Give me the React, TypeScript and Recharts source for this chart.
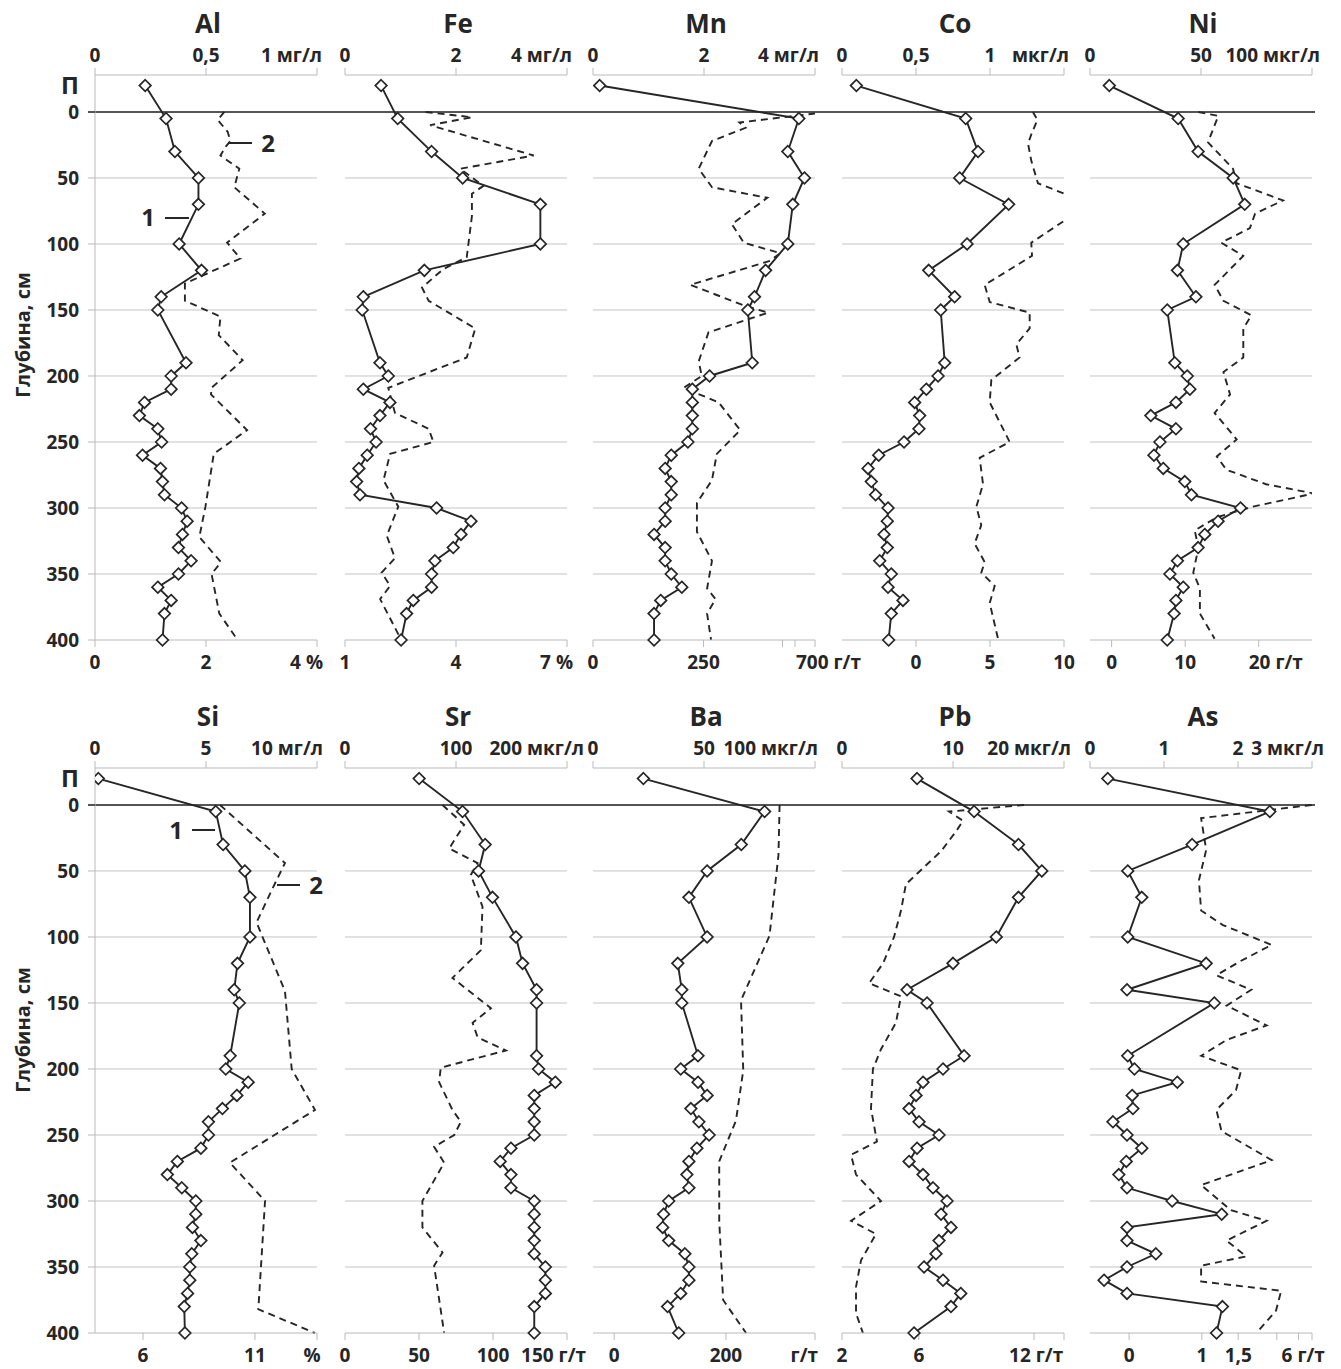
import React from 'react';
import { LineChart, Line, XAxis, YAxis, ReferenceLine } from 'recharts';

const FONT = "'Open Sans', 'DejaVu Sans', sans-serif";
const INK = '#262626';
const GRID = '#c4c4c4';
const AXIS = '#bababa';
const ZERO = '#555555';

// ---------- depths ----------
const solidDepths = [-20, 5, 30, 50, 70, 100, 120, 140, 150, 190, 200, 210, 220, 230, 240, 250, 260, 270, 280, 290, 300, 310, 320, 330, 340, 350, 360, 370, 380, 400];
const gridDepths = [50, 100, 150, 200, 250, 300, 350];
const depthTicks = [-20, 0, 50, 100, 150, 200, 250, 300, 350, 400];
const depthTickLabels = ['П', '0', '50', '100', '150', '200', '250', '300', '350', '400'];

// ---------- series 1 (pore water, top axes) ----------
const alSolid = [0.226, 0.32, 0.36, 0.466, 0.466, 0.379, 0.48, 0.298, 0.283, 0.41, 0.343, 0.343, 0.223, 0.2, 0.283, 0.3, 0.214, 0.295, 0.304, 0.313, 0.39, 0.415, 0.394, 0.376, 0.433, 0.376, 0.283, 0.343, 0.313, 0.304];
const feSolid = [0.65, 0.95, 1.56, 2.12, 3.52, 3.52, 1.43, 0.33, 0.31, 0.63, 0.78, 0.33, 0.81, 0.63, 0.46, 0.56, 0.4, 0.25, 0.21, 0.27, 1.65, 2.27, 2.09, 1.95, 1.62, 1.56, 1.56, 1.23, 1.11, 1.01];
const mnSolid = [0.12, 3.71, 3.51, 3.81, 3.6, 3.51, 3.11, 2.91, 2.79, 2.87, 2.1, 1.79, 1.79, 1.79, 1.79, 1.71, 1.41, 1.3, 1.41, 1.41, 1.3, 1.3, 1.1, 1.3, 1.3, 1.41, 1.6, 1.22, 1.1, 1.1];
const coSolid = [0.097, 0.836, 0.919, 0.795, 1.126, 0.845, 0.586, 0.761, 0.667, 0.694, 0.649, 0.57, 0.491, 0.525, 0.52, 0.419, 0.248, 0.176, 0.198, 0.227, 0.311, 0.306, 0.284, 0.306, 0.255, 0.333, 0.311, 0.412, 0.333, 0.315];
const niSolid = [8.7, 39.7, 48.7, 64.5, 69.7, 42, 39.4, 47.7, 34.8, 38.2, 43.8, 45, 38.7, 27.4, 38.7, 31.5, 28.8, 33, 42.7, 45.7, 67.8, 57.7, 51.7, 48.7, 39.4, 36, 42, 38.7, 37.9, 34.8];
const siSolid = [0.15, 5.44, 5.77, 6.75, 6.98, 6.98, 6.42, 6.27, 6.5, 6.09, 5.89, 6.9, 6.39, 5.74, 5.11, 5.11, 4.77, 3.71, 3.26, 3.91, 4.54, 4.54, 4.39, 4.77, 4.36, 4.27, 4.27, 4.17, 4.02, 4.05];
const srSolid = [66.8, 105.9, 126.3, 120.3, 132.9, 154, 160, 172.6, 172.6, 172.6, 174.4, 189.5, 170.5, 170.5, 170.5, 170.5, 149.5, 139.8, 149.5, 149.5, 170.5, 170.5, 170.5, 170.5, 170.5, 180.5, 180.5, 180.5, 170.5, 170.5];
const baSolid = [22.7, 77.3, 66.8, 51.4, 43.2, 51.4, 38.2, 40, 40, 47.3, 39.5, 47.3, 51.4, 44.1, 47.7, 52.3, 46.8, 43.2, 42.3, 43.2, 34.1, 31.8, 31.4, 34.1, 41.4, 43.2, 43.2, 39.5, 33.6, 38.6];
const pbSolid = [6.76, 11.9, 15.9, 18, 15.9, 13.9, 10, 5.86, 7.66, 11, 9.1, 7.3, 6.67, 6.04, 6.94, 8.74, 6.76, 6.04, 7.3, 8.2, 9.46, 8.92, 9.82, 8.74, 8.47, 7.39, 9.1, 10.7, 9.82, 6.49];
const asSolid = [0.24, 2.43, 1.38, 0.51, 0.7, 0.51, 1.57, 0.5, 1.68, 0.51, 0.6, 1.18, 0.57, 0.58, 0.31, 0.5, 0.7, 0.49, 0.39, 0.5, 1.11, 1.78, 0.5, 0.5, 0.89, 0.5, 0.19, 0.5, 1.79, 1.71];

// ---------- series 2 (sediment, bottom axes) ----------
const alDashDepths = [0, 6, 15, 22, 26, 33, 43, 57, 77, 99, 111, 130, 143, 155, 169, 188, 209, 214, 241, 259, 299, 322, 341, 350, 380, 400];
const alDash = [2.33, 2.21, 2.39, 2.44, 2.36, 2.26, 2.6, 2.51, 3.06, 2.38, 2.62, 1.62, 1.62, 2.26, 2.23, 2.66, 2.1, 2.09, 2.74, 2.14, 1.99, 1.88, 2.27, 2.1, 2.24, 2.57];
const feDashDepths = [0, 4, 10, 33, 43, 56, 62, 79, 110, 119, 133, 143, 164, 186, 209, 228, 240, 250, 259, 279, 299, 321, 338, 349, 359, 369, 400];
const feDash = [3.18, 4.43, 3.3, 6.1, 4.11, 4.74, 4.43, 4.43, 4.29, 3.66, 3.08, 3.26, 4.52, 4.29, 2.17, 2.35, 3.26, 3.39, 2.22, 2.04, 2.44, 2.13, 2.35, 1.99, 2.22, 1.95, 2.52];
const mnDashDepths = [0, 8, 12, 22, 43, 57, 65, 85, 99, 107, 113, 131, 147, 152, 167, 189, 200, 209, 220, 241, 259, 279, 296, 318, 340, 361, 369, 380, 400];
const mnDash = [530, 331, 345, 269, 239, 269, 394, 314, 341, 424, 398, 220, 345, 396, 261, 239, 246, 205, 284, 333, 280, 269, 235, 235, 269, 258, 277, 258, 267];
const coDashDepths = [0, 6, 17, 24, 37, 54, 65, 78, 99, 109, 131, 144, 152, 164, 176, 186, 203, 220, 250, 262, 282, 299, 313, 327, 341, 349, 359, 372, 399];
const coDash = [7.9, 8.2, 7.79, 7.57, 7.79, 8.24, 10.72, 10.61, 7.79, 7.84, 4.64, 4.98, 7.68, 7.68, 6.78, 7.0, 5.09, 4.98, 6.33, 4.3, 4.53, 4.08, 4.41, 3.96, 4.64, 4.41, 5.32, 4.98, 5.54];
const niDashDepths = [0, 3, 23, 43, 54, 67, 77, 88, 99, 109, 131, 143, 154, 164, 186, 197, 214, 228, 248, 261, 271, 282, 289, 299, 307, 317, 330, 349, 361, 380, 399];
const niDash = [11.8, 14.5, 13.1, 16.5, 17, 23.3, 19.5, 18.8, 14.9, 17.9, 14, 15.2, 19, 17.9, 17.9, 15.2, 16.1, 14, 17, 14.3, 15.6, 21, 27.5, 19.2, 14.3, 11.3, 11.8, 11.1, 12, 12, 14];
const siDashDepths = [0, 44, 62, 89, 141, 200, 231, 271, 300, 382, 400];
const siDash = [9.44, 12.34, 11.82, 11.07, 12.34, 12.64, 13.68, 9.88, 11.45, 11.15, 13.68];
const srDashDepths = [0, 15, 33, 44, 53, 77, 110, 131, 154, 165, 176, 186, 199, 210, 231, 240, 250, 259, 271, 300, 320, 339, 349, 400];
const srDash = [65.9, 80.5, 70.4, 89.6, 85, 92.9, 91.8, 72.6, 98.6, 86.2, 89.6, 108.7, 64.7, 63.6, 72.6, 78.3, 73.8, 60.2, 67, 52.3, 52.3, 65.9, 60.2, 67];
const baDashDepths = [0, 38, 99, 148, 201, 239, 270, 315, 375, 400];
const baDash = [296, 294, 278, 227, 231, 218, 188, 188, 195, 236];
const pbDashDepths = [0, 5, 12, 20, 35, 60, 80, 100, 120, 135, 145, 165, 185, 200, 230, 255, 265, 280, 300, 315, 325, 345, 365, 385, 400];
const pbDash = [11.48, 7.57, 8.3, 7.94, 7.16, 5.33, 5.07, 4.71, 4.14, 3.41, 5.07, 4.81, 4.03, 3.61, 3.51, 3.82, 2.47, 2.73, 4.03, 2.47, 3.77, 2.99, 2.73, 2.73, 3.09];
const asDashDepths = [0, 10, 34, 57, 80, 91, 106, 118, 129, 140, 152, 167, 178, 190, 201, 216, 231, 247, 269, 288, 307, 315, 330, 342, 349, 361, 368, 383, 400];
const asDash = [2.51, 0.99, 1.06, 0.96, 0.99, 1.29, 1.96, 1.54, 1.2, 1.68, 1.34, 1.89, 1.34, 0.99, 1.54, 1.47, 1.2, 1.27, 1.96, 0.99, 1.4, 1.89, 1.34, 1.61, 0.99, 0.99, 2.09, 2.02, 1.75];

// ---------- axis ticks / labels ----------
const alTopTicks = [0, 0.5, 1];
const alTopLabels = ['0', '0,5', '1 мг/л'];
const alBotTicks = [0, 2, 4];
const alBotLabels = ['0', '2', '4 %'];
const feTopTicks = [0, 2, 4];
const feTopLabels = ['0', '2', '4 мг/л'];
const feBotTicks = [1, 4, 7];
const feBotLabels = ['1', '4', '7 %'];
const mnTopTicks = [0, 2, 4];
const mnTopLabels = ['0', '2', '4 мг/л'];
const mnBotTicks = [0, 250, 428.5, 456.8, 502];
const mnBotLabels = ['0', '250', '', '', '700 г/т'];
const coTopTicks = [0, 0.5, 1, 1.5];
const coTopLabels = ['0', '0,5', '1', 'мкг/л'];
const coBotTicks = [0, 5, 10];
const coBotLabels = ['0', '5', '10'];
const niTopTicks = [0, 50, 100];
const niTopLabels = ['0', '50', '100 мкг/л'];
const niBotTicks = [0, 10, 20];
const niBotLabels = ['0', '10', '20 г/т'];
const siTopTicks = [0, 5, 10];
const siTopLabels = ['0', '5', '10 мг/л'];
const siBotTicks = [6, 11, 13.77];
const siBotLabels = ['6', '11', '%'];
const srTopTicks = [0, 100, 200];
const srTopLabels = ['0', '100', '200 мкг/л'];
const srBotTicks = [0, 50, 100, 150];
const srBotLabels = ['0', '50', '100', '150 г/т'];
const baTopTicks = [0, 50, 100];
const baTopLabels = ['0', '50', '100 мкг/л'];
const baBotTicks = [0, 200, 359.4];
const baBotLabels = ['0', '200', 'г/т'];
const pbTopTicks = [0, 10, 20];
const pbTopLabels = ['0', '10', '20 мкг/л'];
const pbBotTicks = [2, 6, 12, 13.56];
const pbBotLabels = ['2', '6', '12 г/т', ''];
const asTopTicks = [0, 1, 2, 3];
const asTopLabels = ['0', '1', '2', '3 мкг/л'];
const asBotTicks = [0, 1, 1.5, 2.03, 2.33, 2.514];
const asBotLabels = ['0', '1', '1,5', '', '6 г/т', ''];

type Place = { a?: 'start' | 'middle' | 'end'; dx?: number };
type Cfg = {
  name: string;
  top: [number, number]; topTicks: number[]; topLabels: string[]; topPlace: Place[];
  bot: [number, number]; botTicks: number[]; botLabels: string[]; botPlace: Place[];
  solid: number[]; dashDepths: number[]; dash: number[];
};

const E = (dx: number): Place => ({ a: 'end', dx });
const S = (dx: number): Place => ({ a: 'start', dx });
const M: Place = {};

const rows: Cfg[][] = [
  [
    { name: 'Al', top: [0, 1], topTicks: alTopTicks, topLabels: alTopLabels, topPlace: [M, M, E(5)], bot: [0, 4], botTicks: alBotTicks, botLabels: alBotLabels, botPlace: [M, M, E(6)], solid: alSolid, dashDepths: alDashDepths, dash: alDash },
    { name: 'Fe', top: [0, 4], topTicks: feTopTicks, topLabels: feTopLabels, topPlace: [M, M, E(5)], bot: [1, 7], botTicks: feBotTicks, botLabels: feBotLabels, botPlace: [M, M, E(6)], solid: feSolid, dashDepths: feDashDepths, dash: feDash },
    { name: 'Mn', top: [0, 4], topTicks: mnTopTicks, topLabels: mnTopLabels, topPlace: [M, M, E(4)], bot: [0, 502], botTicks: mnBotTicks, botLabels: mnBotLabels, botPlace: [M, M, M, M, S(-19)], solid: mnSolid, dashDepths: mnDashDepths, dash: mnDash },
    { name: 'Co', top: [0, 1.5], topTicks: coTopTicks, topLabels: coTopLabels, topPlace: [M, M, M, E(5)], bot: [-5, 10], botTicks: coBotTicks, botLabels: coBotLabels, botPlace: [M, M, M], solid: coSolid, dashDepths: coDashDepths, dash: coDash },
    { name: 'Ni', top: [0, 100], topTicks: niTopTicks, topLabels: niTopLabels, topPlace: [M, M, E(8)], bot: [-2.94, 27.24], botTicks: niBotTicks, botLabels: niBotLabels, botPlace: [M, M, S(-10)], solid: niSolid, dashDepths: niDashDepths, dash: niDash },
  ],
  [
    { name: 'Si', top: [0, 10], topTicks: siTopTicks, topLabels: siTopLabels, topPlace: [M, M, E(6)], bot: [3.857, 13.77], botTicks: siBotTicks, botLabels: siBotLabels, botPlace: [M, M, { dx: -5 }], solid: siSolid, dashDepths: siDashDepths, dash: siDash },
    { name: 'Sr', top: [0, 200], topTicks: srTopTicks, topLabels: srTopLabels, topPlace: [M, M, E(17)], bot: [0, 150], botTicks: srBotTicks, botLabels: srBotLabels, botPlace: [M, M, M, E(19)], solid: srSolid, dashDepths: srDashDepths, dash: srDash },
    { name: 'Ba', top: [0, 100], topTicks: baTopTicks, topLabels: baTopLabels, topPlace: [M, M, E(3)], bot: [-37.9, 359.4], botTicks: baBotTicks, botLabels: baBotLabels, botPlace: [M, M, E(3)], solid: baSolid, dashDepths: baDashDepths, dash: baDash },
    { name: 'Pb', top: [0, 20], topTicks: pbTopTicks, topLabels: pbTopLabels, topPlace: [M, M, E(7)], bot: [2, 13.56], botTicks: pbBotTicks, botLabels: pbBotLabels, botPlace: [M, M, S(-25), M], solid: pbSolid, dashDepths: pbDashDepths, dash: pbDash },
    { name: 'As', top: [0, 3], topTicks: asTopTicks, topLabels: asTopLabels, topPlace: [M, M, M, E(12)], bot: [-0.537, 2.514], botTicks: asBotTicks, botLabels: asBotLabels, botPlace: [M, M, M, M, S(-17), M], solid: asSolid, dashDepths: asDashDepths, dash: asDash },
  ],
];

// ---------- layout ----------
const PANEL_X = [95, 345, 593, 842, 1090];
const PANEL_W = 222;
const ROW_TOP = [75, 768];
const PLOT_H = 565;
const HT = 40;
const HB = 40;
const TICK_FS = 19;

const renderDiamond = (p: any) => {
  const { cx, cy, index } = p;
  if (cx == null || cy == null || isNaN(cx) || isNaN(cy)) return <g key={`d${index}`} />;
  const s = 5.8;
  return (
    <path key={`d${index}`} d={`M${cx},${cy - s}L${cx + s},${cy}L${cx},${cy + s}L${cx - s},${cy}Z`}
      fill="#fff" stroke={INK} strokeWidth={1.7} />
  );
};

const makeXTick = (labels: string[], place: Place[], side: 'top' | 'bottom') => (props: any) => {
  const { x, y, index } = props;
  const lab = labels[index] ?? '';
  const pl = place[index] ?? {};
  const ty = side === 'top' ? y - 6 : y + 22;
  return (
    <text x={x + (pl.dx ?? 0)} y={ty} textAnchor={pl.a ?? 'middle'} fontFamily={FONT} fontWeight={700}
      fontSize={TICK_FS} fill={INK}>{lab}</text>
  );
};

const renderYTick = (props: any) => {
  const { x, y, index } = props;
  const lab = depthTickLabels[index] ?? '';
  const isP = lab === 'П';
  return (
    <g>
      {!isP && <line x1={x - 7} x2={x} y1={y} y2={y} stroke={lab === '0' ? ZERO : AXIS} strokeWidth={lab === '0' ? 2 : 1} />}
      <text x={x - 16} y={y + (isP ? 8 : 7)} textAnchor="end" fontFamily={FONT} fontWeight={700}
        fontSize={isP ? 24 : TICK_FS} fill={INK}>{lab}</text>
    </g>
  );
};

function Panel({ cfg, x0, top, first, last }: { cfg: Cfg; x0: number; top: number; first: boolean; last: boolean }) {
  const yW = first ? 90 : 0;
  const ml = first ? 95 : 25;
  const mr = 30;
  const width = ml + PANEL_W + mr;
  const height = HT + PLOT_H + HB;
  const solidData = solidDepths.map((d, i) => ({ d, v: cfg.solid[i] }));
  const dashData = cfg.dashDepths.map((d, i) => ({ d, v: cfg.dash[i] }));
  const [t0, t1] = cfg.top;
  const u = (t1 - t0) / PANEL_W;
  const zeroSeg = [
    { x: t0 - (first ? 7 : 0) * u, y: 0 },
    { x: t1 + (last ? 3 : 28) * u, y: 0 },
  ];
  return (
    <div style={{ position: 'absolute', left: x0 - ml, top: top - HT }}>
      <LineChart width={width} height={height} layout="vertical"
        margin={{ top: 0, right: mr, bottom: 0, left: ml - yW }}>
        <XAxis xAxisId="top" orientation="top" type="number" domain={cfg.top} ticks={cfg.topTicks}
          interval={0} height={HT} allowDataOverflow tickSize={7} tickMargin={0}
          tickLine={{ stroke: AXIS }} axisLine={{ stroke: AXIS }}
          tick={makeXTick(cfg.topLabels, cfg.topPlace, 'top')} />
        <XAxis xAxisId="bottom" orientation="bottom" type="number" domain={cfg.bot} ticks={cfg.botTicks}
          interval={0} height={HB} allowDataOverflow tickSize={7} tickMargin={0}
          tickLine={{ stroke: AXIS }} axisLine={{ stroke: AXIS }}
          tick={makeXTick(cfg.botLabels, cfg.botPlace, 'bottom')} />
        {first ? (
          <YAxis type="number" dataKey="d" domain={[-28, 400]} ticks={depthTicks} interval={0} width={yW}
            tickSize={0} tickMargin={0} tickLine={false} axisLine={{ stroke: AXIS }} tick={renderYTick} />
        ) : (
          <YAxis type="number" dataKey="d" domain={[-28, 400]} width={0} tick={false} tickLine={false}
            axisLine={{ stroke: AXIS }} />
        )}
        {gridDepths.map((g) => (
          <ReferenceLine key={g} y={g} xAxisId="top" stroke={GRID} strokeWidth={1} />
        ))}
        <ReferenceLine xAxisId="top" segment={zeroSeg} stroke={ZERO} strokeWidth={2} ifOverflow="visible" />
        <Line xAxisId="bottom" data={dashData} dataKey="v" stroke={INK} strokeWidth={1.9}
          strokeDasharray="7 5" dot={false} activeDot={false} isAnimationActive={false} />
        <Line xAxisId="top" data={solidData} dataKey="v" stroke={INK} strokeWidth={1.9}
          dot={renderDiamond} activeDot={false} isAnimationActive={false} />
      </LineChart>
    </div>
  );
}

const TITLE_BASE = [33, 726];
const DEPTH_LABEL_Y = [335, 1030];

export default function App() {
  return (
    <div style={{ position: 'absolute', left: 0, top: 0, width: 1341, height: 1369, background: '#fff', fontFamily: FONT }}>
      <style>{`.recharts-surface{overflow:visible}`}</style>
      {rows.map((row, r) =>
        row.map((cfg, i) => (
          <Panel key={cfg.name} cfg={cfg} x0={PANEL_X[i]} top={ROW_TOP[r]} first={i === 0} last={i === row.length - 1} />
        ))
      )}
      <svg width={1341} height={1369} style={{ position: 'absolute', left: 0, top: 0, pointerEvents: 'none' }}>
        {rows.map((row, r) =>
          row.map((cfg, i) => (
            <text key={`t${cfg.name}`} x={PANEL_X[i] + PANEL_W / 2 + 2} y={TITLE_BASE[r]} textAnchor="middle"
              fontFamily={FONT} fontWeight={700} fontSize={26} fill={INK}>{cfg.name}</text>
          ))
        )}
        {DEPTH_LABEL_Y.map((cy, r) => (
          <text key={`g${r}`} x={22} y={cy} transform={`rotate(-90 22 ${cy})`} textAnchor="middle"
            dominantBaseline="central" fontFamily={FONT} fontWeight={700} fontSize={20} fill={INK}>Глубина, см</text>
        ))}
        {/* series labels */}
        <text x={148} y={226} textAnchor="middle" fontFamily={FONT} fontWeight={700} fontSize={24} fill={INK}>1</text>
        <line x1={165} x2={189} y1={218} y2={218} stroke={INK} strokeWidth={2} />
        <text x={268} y={152} textAnchor="middle" fontFamily={FONT} fontWeight={700} fontSize={24} fill={INK}>2</text>
        <line x1={228} x2={252} y1={143} y2={143} stroke={INK} strokeWidth={2} />
        <text x={176} y={839} textAnchor="middle" fontFamily={FONT} fontWeight={700} fontSize={24} fill={INK}>1</text>
        <line x1={192} x2={215} y1={830} y2={830} stroke={INK} strokeWidth={2} />
        <text x={316} y={894} textAnchor="middle" fontFamily={FONT} fontWeight={700} fontSize={24} fill={INK}>2</text>
        <line x1={277} x2={300} y1={885} y2={885} stroke={INK} strokeWidth={2} />
      </svg>
    </div>
  );
}
